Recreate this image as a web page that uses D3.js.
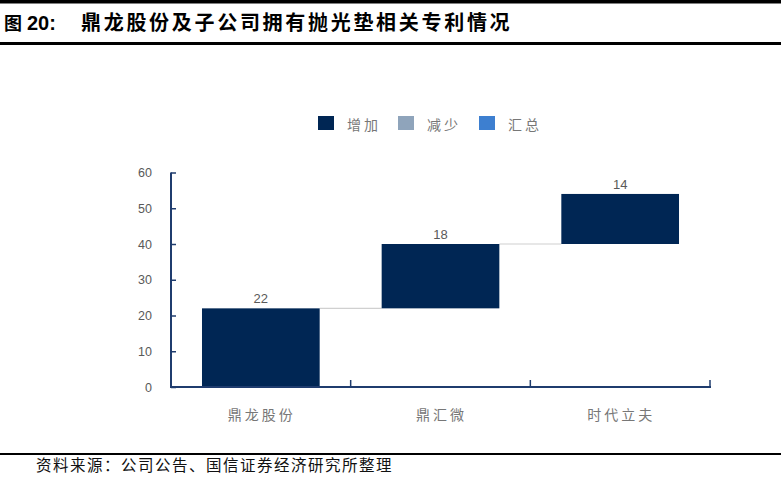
<!DOCTYPE html>
<html><head><meta charset="utf-8">
<script src="https://cdn.jsdelivr.net/npm/d3@7/dist/d3.min.js"></script>
<style>body{margin:0;background:#fff;}svg{display:block;}</style>
</head><body>
<svg id="c" width="781" height="479"></svg>
<script>
const categories = ["鼎龙股份", "鼎汇微", "时代立夫"];
const increases = [22, 18, 14];
const yTicks = [0, 10, 20, 30, 40, 50, 60];
const legendLabels = ["增加", "减少", "汇总"];
const titlePrefix = "图";
const titleNumber = "20:";
const titleText = "鼎龙股份及子公司拥有抛光垫相关专利情况";
const source = "资料来源：公司公告、国信证券经济研究所整理";

const svg = d3.select("#c");
const W = 781;
const navy = "#002654", axisColor = "#1f3c6e";
const legendColors = [navy, "#8fa4bb", "#3d7fd0"];
const cjk = "'Noto Sans CJK SC', sans-serif";
const latin = "'Liberation Sans', Arial, sans-serif";

// header / footer rules
svg.append("rect").attr("x",0).attr("y",0).attr("width",W).attr("height",3.5).attr("fill","#000");
svg.append("rect").attr("x",0).attr("y",42).attr("width",W).attr("height",3).attr("fill","#000");
svg.append("rect").attr("x",0).attr("y",453).attr("width",W).attr("height",2).attr("fill","#000");
svg.append("text").attr("x",4).attr("y",30).attr("font-weight","bold").attr("fill","#000")
  .attr("font-family",cjk).attr("font-size",18).text(titlePrefix);
svg.append("text").attr("x",27).attr("y",30).attr("font-weight","bold").attr("fill","#000")
  .attr("font-family",latin).attr("font-size",20).text(titleNumber);
svg.append("text").attr("x",81).attr("y",30).text(titleText)
  .attr("font-family",cjk).attr("font-weight","bold").attr("font-size",20).attr("letter-spacing",2.7).attr("fill","#000");
svg.append("text").attr("x",36).attr("y",471).text(source)
  .attr("font-family",cjk).attr("font-size",15.5).attr("letter-spacing",1.5).attr("fill","#111");

const x = d3.scaleBand().domain(categories).range([171, 710]).paddingInner(0).paddingOuter(0);
const y = d3.scaleLinear().domain([0, 60]).range([387, 172.5]);

// compute waterfall bases
let cum = 0;
const data = categories.map((c, i) => { const d = {c, v: increases[i], base: cum, top: cum + increases[i]}; cum += increases[i]; return d; });
const barW = x.bandwidth() * 0.655;

// connectors
const g = svg.append("g");
data.slice(0, -1).forEach((d, i) => {
  const n = data[i + 1];
  g.append("line")
    .attr("x1", x(d.c) + (x.bandwidth() + barW) / 2).attr("x2", x(n.c) + (x.bandwidth() - barW) / 2)
    .attr("y1", y(d.top)).attr("y2", y(d.top))
    .attr("stroke", "#d0d0d0").attr("stroke-width", 1.2);
});

g.selectAll("rect.bar").data(data).join("rect").attr("class","bar")
  .attr("x", d => x(d.c) + (x.bandwidth() - barW) / 2)
  .attr("width", barW)
  .attr("y", d => y(d.top))
  .attr("height", d => y(d.base) - y(d.top))
  .attr("fill", navy);

g.selectAll("text.val").data(data).join("text").attr("class","val")
  .attr("x", d => x(d.c) + x.bandwidth() / 2)
  .attr("y", d => y(d.top) - 5)
  .attr("text-anchor","middle")
  .attr("font-family",latin).attr("font-size",13).attr("fill","#595959")
  .text(d => d.v);

// y axis
const yAxis = svg.append("g").attr("transform","translate(171,0)")
  .call(d3.axisRight(y).tickValues(yTicks).tickSize(5).tickFormat(""));
yAxis.select(".domain").attr("stroke", axisColor).attr("stroke-width",2).attr("d","M0,172.5V387");
yAxis.selectAll(".tick line").attr("stroke", axisColor).attr("stroke-width",1.5);
svg.append("g").selectAll("text").data(yTicks).join("text")
  .attr("x", 152).attr("y", d => y(d) + 4.5).attr("text-anchor","end")
  .attr("font-family",latin).attr("font-size",12.5).attr("fill","#595959")
  .text(d => d);

// x axis
const boundaries = categories.map(c => x(c)).concat([710]);
const xAxis = svg.append("g");
xAxis.append("line").attr("x1",170).attr("x2",711).attr("y1",387).attr("y2",387)
  .attr("stroke", axisColor).attr("stroke-width",2);
xAxis.selectAll("line.t").data(boundaries.slice(1)).join("line").attr("class","t")
  .attr("x1", d => d).attr("x2", d => d).attr("y1", 387).attr("y2", 380)
  .attr("stroke", axisColor).attr("stroke-width",1.5);
xAxis.selectAll("text").data(categories).join("text")
  .attr("x", d => x(d) + x.bandwidth() / 2 + 1).attr("y", 420).attr("text-anchor","middle")
  .attr("font-family",cjk).attr("font-size",14).attr("letter-spacing",3).attr("fill","#777")
  .text(d => d);

// legend
const legX = [318, 398, 479];
const lg = svg.append("g");
legendLabels.forEach((l, i) => {
  lg.append("rect").attr("x", legX[i]).attr("y", 116).attr("width", 16).attr("height", 14).attr("fill", legendColors[i]);
  lg.append("text").attr("x", legX[i] + 29).attr("y", 130).text(l)
    .attr("font-family",cjk).attr("font-size",14).attr("letter-spacing",3).attr("fill","#777");
});
</script>
</body></html>
